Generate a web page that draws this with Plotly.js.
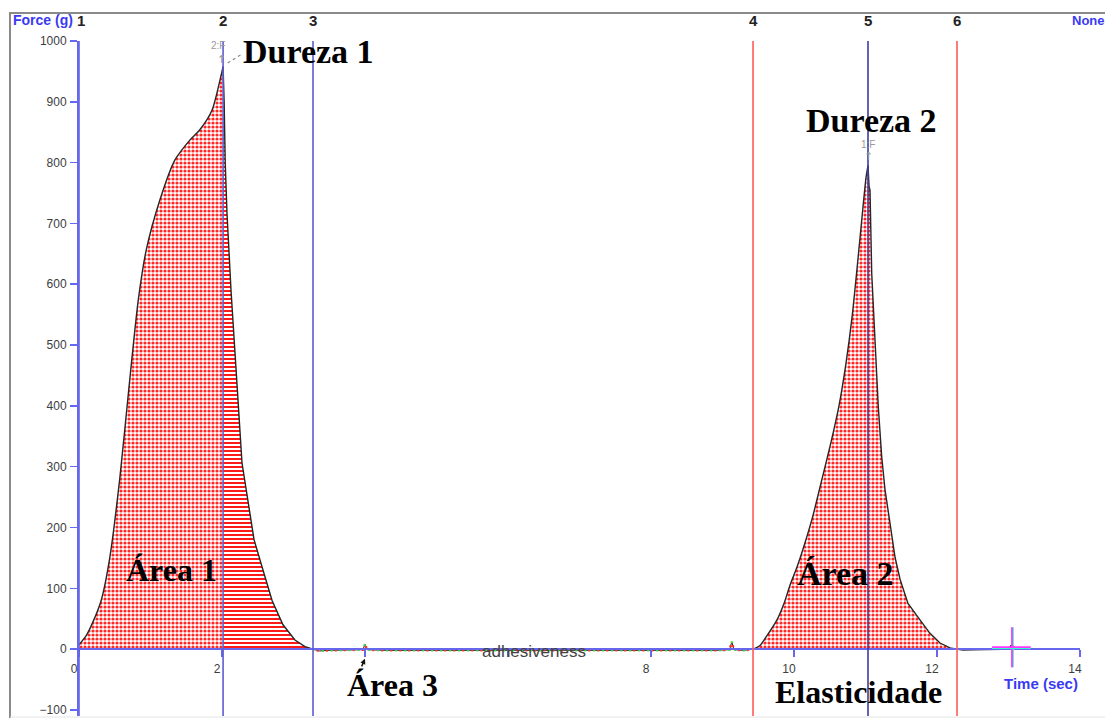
<!DOCTYPE html>
<html>
<head>
<meta charset="utf-8">
<script src="https://cdn.plot.ly/plotly-3.0.1.min.js"></script>
<style>html,body{margin:0;padding:0;background:#fff;}#chart{width:1105px;height:718px;}</style>
</head>
<body>
<div id="chart"></div>
<script>
// ---- data (time in s, force in g) ----
const peak1Time  = [0, 0.1, 0.2, 0.31, 0.43, 0.57, 0.69, 0.83, 0.94, 1.13, 1.34, 1.55, 1.69, 1.86, 2.0, 2.015, 2.03, 2.045, 2.07, 2.126, 2.175, 2.224, 2.28, 2.364, 2.448, 2.573, 2.70, 2.853, 3.02, 3.16, 3.273];
const peak1Force = [7, 22, 46, 80, 150, 280, 420, 575, 656, 738, 804, 837, 854, 886, 950, 958, 900, 800, 716, 590, 495, 401, 306, 243, 180, 130, 80, 40, 15, 4, 0];

const baseTime  = [3.273, 3.36, 3.5, 3.8, 3.97, 4.0, 4.03, 4.3, 5.0, 6.0, 7.0, 8.0, 8.9, 9.1, 9.13, 9.16, 9.3, 9.427];
const baseForce = [0, -3, -2, -2, -1, 8, -1, -2, -2, -3, -2, -2, -2, -1, 12, -1, -2, 0];

const peak2Time  = [9.427, 9.524, 9.622, 9.762, 9.86, 9.944, 10.042, 10.154, 10.266, 10.392, 10.517, 10.629, 10.727, 10.811, 10.881, 10.951, 11.007, 11.035, 11.05, 11.063, 11.087, 11.133, 11.179, 11.227, 11.273, 11.343, 11.413, 11.483, 11.594, 11.762, 11.902, 12.042, 12.182, 12.28];
const peak2Force = [0, 6, 22, 48, 75, 105, 135, 175, 220, 280, 340, 400, 470, 545, 625, 710, 775, 795, 760, 755, 618, 508, 398, 316, 262, 207, 151, 115, 75, 48, 26, 10, 2, 0];

const tailTime  = [12.28, 12.36, 12.6, 13.05];
const tailForce = [0, -2, -1, 0];

const markerTime   = [0, 2.015, 3.273, 9.427, 11.035, 12.28];
const markerLabels = ['1', '2', '3', '4', '5', '6'];
const markerColors = ['#6262dd', '#5c5cd0', '#5c5cd0', '#ff5a5a', '#3c3ca0', '#ff5a5a'];

const xTickVals   = [0, 2, 4, 6, 8, 10, 12, 14];
const xTickText   = ['0', '2', '', '', '8', '10', '12', '14'];
const yTickVals   = [-100, 0, 100, 200, 300, 400, 500, 600, 700, 800, 900, 1000];

const cursorTime = 13.05, cursorForce = 3;

// ---- helpers ----
function splitAtMax(t, f) {
  let k = 0;
  f.forEach((v, i) => { if (v > f[k]) k = i; });
  return { riseT: t.slice(0, k + 1), riseF: f.slice(0, k + 1), fallT: t.slice(k), fallF: f.slice(k) };
}
const p1 = splitAtMax(peak1Time, peak1Force);
const p2 = splitAtMax(peak2Time, peak2Force);

const lightPattern = { shape: '.', fgcolor: '#ff2626', bgcolor: 'rgba(255,255,255,0)', size: 4, solidity: 0.5 };
const densePattern = { shape: '-', fgcolor: '#ff1a1a', bgcolor: 'rgba(255,255,255,0)', size: 4, solidity: 0.5 };

function area(t, f, pat, shape) {
  return { x: t, y: f, type: 'scatter', mode: 'lines',
           line: { color: '#262626', width: 1.4, shape: shape, smoothing: 0.7 }, fill: 'tozeroy',
           fillcolor: 'rgba(255,0,0,0)', fillpattern: pat, hoverinfo: 'skip' };
}

const traces = [
  area(p1.riseT, p1.riseF, lightPattern, 'spline'),
  area(p1.fallT, p1.fallF, densePattern, 'linear'),
  area(p2.riseT, p2.riseF, lightPattern, 'spline'),
  area(p2.fallT, p2.fallF, lightPattern, 'linear'),
  { x: baseTime, y: baseForce, type: 'scatter', mode: 'lines', line: { color: '#222', width: 1 } },
  { x: baseTime, y: baseForce, type: 'scatter', mode: 'lines', line: { color: '#3ddc3d', width: 2.5, dash: '2px,7px' } },
  { x: baseTime, y: baseForce, type: 'scatter', mode: 'lines', line: { color: '#ff3030', width: 2.5, dash: '0px,4px,2px,3px' } },
  { x: tailTime, y: tailForce, type: 'scatter', mode: 'lines', line: { color: '#666', width: 1.5 } },
  { x: [cursorTime], y: [cursorForce], type: 'scatter', mode: 'markers', marker: { color: '#111', size: 5 } }
];

// ---- shapes ----
const px2paperX = px => (px - 79) / 1001;
const px2paperY = py => (716 - py) / 675;
const shapes = [];
markerTime.forEach((t, i) => {
  shapes.push({ type: 'line', xref: 'x', yref: 'paper', x0: t, x1: t, y0: 0, y1: 1,
                line: { color: markerColors[i], width: 1.6 } });
});
// window frame
shapes.push({ type: 'line', xref: 'paper', yref: 'paper', x0: px2paperX(9), x1: px2paperX(1105), y0: px2paperY(13), y1: px2paperY(13), line: { color: '#8a8a8a', width: 2 } });
shapes.push({ type: 'line', xref: 'paper', yref: 'paper', x0: px2paperX(10), x1: px2paperX(10), y0: px2paperY(13), y1: px2paperY(718), line: { color: '#8a8a8a', width: 2 } });
shapes.push({ type: 'line', xref: 'paper', yref: 'paper', x0: px2paperX(10), x1: px2paperX(1105), y0: px2paperY(717), y1: px2paperY(717), line: { color: '#e4e4e4', width: 1 } });
// crosshair cursor
shapes.push({ type: 'line', xref: 'x', yref: 'y', x0: cursorTime, x1: cursorTime, y0: -30, y1: 36, line: { color: '#ff33ff', width: 2 } });
shapes.push({ type: 'line', xref: 'x', yref: 'y', x0: cursorTime + 0.018, x1: cursorTime + 0.018, y0: -30, y1: 36, line: { color: '#33ffcc', width: 1 } });
shapes.push({ type: 'line', xref: 'x', yref: 'y', x0: cursorTime - 0.28, x1: cursorTime + 0.26, y0: cursorForce, y1: cursorForce, line: { color: '#ff33ff', width: 2 } });
shapes.push({ type: 'line', xref: 'x', yref: 'y', x0: cursorTime - 0.28, x1: cursorTime + 0.26, y0: cursorForce - 2, y1: cursorForce - 2, line: { color: '#33ffcc', width: 1 } });
// dashed leader to "Dureza 1"
shapes.push({ type: 'line', xref: 'x', yref: 'y', x0: 2.08, x1: 2.26, y0: 964, y1: 977, line: { color: '#888', width: 1.2, dash: 'dot' } });

// ---- annotations ----
const serif = 'Liberation Serif, Times New Roman, serif';
const big = { family: serif, size: 32, color: '#000', weight: 700 };
const bigger = { family: serif, size: 34, color: '#000', weight: 700 };
const blue = { family: 'Liberation Sans, Arial, sans-serif', size: 15, color: '#3a3af2', weight: 700 };
const annotations = [
  { text: 'Dureza 1', x: 3.203, y: 982, xref: 'x', yref: 'y', showarrow: false, font: bigger },
  { text: 'Dureza 2', x: 11.077, y: 870, xref: 'x', yref: 'y', showarrow: false, font: bigger },
  { text: 'Área 1', x: 1.294, y: 130, xref: 'x', yref: 'y', showarrow: false, font: big },
  { text: 'Área 2', x: 10.727, y: 125, xref: 'x', yref: 'y', showarrow: false, font: bigger },
  { text: 'Área 3', x: 4.385, y: -59, xref: 'x', yref: 'y', showarrow: false, font: big },
  { text: 'Elasticidade', x: 10.902, y: -71, xref: 'x', yref: 'y', showarrow: false, font: big },
  { text: 'adhesiveness', x: 6.364, y: -4, xref: 'x', yref: 'y', showarrow: false,
    font: { family: 'Liberation Sans, Arial, sans-serif', size: 17, color: '#444' } },
  { text: '2:F', x: 1.95, y: 993, xref: 'x', yref: 'y', showarrow: false, font: { family: 'Liberation Sans, Arial', size: 10, color: '#999' } },
  { text: '↑', x: 1.99, y: 970, xref: 'x', yref: 'y', showarrow: false, font: { family: 'DejaVu Sans', size: 11, color: '#999' } },
  { text: '1:F', x: 11.035, y: 829, xref: 'x', yref: 'y', showarrow: false, font: { family: 'Liberation Sans, Arial', size: 10, color: '#999' } },
  { text: '↑', x: 11.035, y: 810, xref: 'x', yref: 'y', showarrow: false, font: { family: 'DejaVu Sans', size: 11, color: '#999' } },
  { text: '', x: 4.0, y: -16, xref: 'x', yref: 'y', showarrow: true, ax: -4, ay: 9, arrowhead: 2, arrowsize: 0.7, arrowwidth: 1.5, arrowcolor: '#111' },
  { text: 'Force (g)', x: px2paperX(11), y: px2paperY(20), xref: 'paper', yref: 'paper', xanchor: 'left', yanchor: 'middle', showarrow: false,
    font: { family: 'Liberation Sans, Arial, sans-serif', size: 14, color: '#3a3af2', weight: 700 } },
  { text: 'None', x: px2paperX(1070), y: px2paperY(20), xref: 'paper', yref: 'paper', xanchor: 'left', yanchor: 'middle', showarrow: false,
    font: { family: 'Liberation Sans, Arial, sans-serif', size: 13, color: '#3a3af2', weight: 700 } },
  { text: 'Time (sec)', x: px2paperX(1041), y: px2paperY(683), xref: 'paper', yref: 'paper', xanchor: 'center', yanchor: 'middle', showarrow: false, font: blue }
];
markerTime.forEach((t, i) => {
  annotations.push({ text: markerLabels[i], x: t, y: px2paperY(20), xref: 'x', yref: 'paper', yanchor: 'middle',
    xshift: i === 0 ? 2 : 0,
    showarrow: false, font: { family: 'Liberation Sans, Arial, sans-serif', size: 15, color: '#222', weight: 700 } });
});

const tickFont = { family: 'Liberation Sans, Arial, sans-serif', size: 12, color: '#3d3d3d' };
const axisBlue = '#6666ee';

const layout = {
  width: 1105, height: 718,
  margin: { l: 79, r: 25, t: 41, b: 2, pad: 0 },
  paper_bgcolor: '#fff', plot_bgcolor: '#fff',
  showlegend: false,
  xaxis: {
    range: [0, 14], anchor: 'free', position: 110 / 1110,
    tickvals: xTickVals, ticktext: xTickText,
    ticks: 'outside', ticklen: 7, tickwidth: 1.5, tickcolor: axisBlue,
    showline: true, linecolor: axisBlue, linewidth: 2,
    showgrid: false, zeroline: false, tickfont: tickFont,
    ticklabelshift: -5, ticklabelstandoff: 1, fixedrange: true
  },
  yaxis: {
    range: [-110, 1000], tickvals: yTickVals,
    ticks: 'outside', ticklen: 7, tickwidth: 1.5, tickcolor: axisBlue,
    showline: true, linecolor: axisBlue, linewidth: 2,
    showgrid: false, zeroline: false, tickfont: tickFont,
    ticklabelstandoff: 1, fixedrange: true
  },
  shapes: shapes,
  annotations: annotations
};

Plotly.newPlot('chart', traces, layout, { staticPlot: true, displayModeBar: false });
</script>
</body>
</html>
